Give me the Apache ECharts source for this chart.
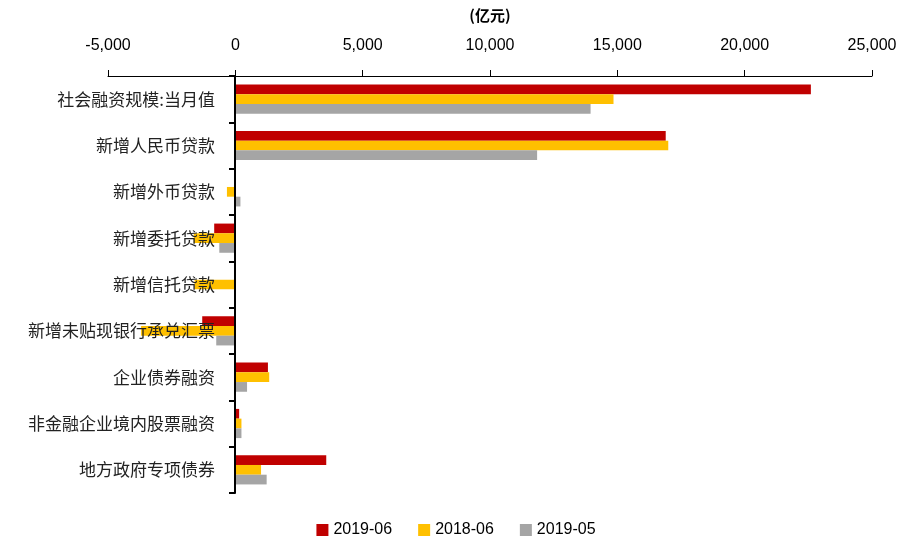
<!DOCTYPE html>
<html>
<head>
<meta charset="utf-8">
<script src="https://cdn.jsdelivr.net/npm/echarts@6/dist/echarts.min.js"></script>
<style>
    html,body{margin:0;padding:0;background:#fff;}
    #chart{width:912px;height:547px;}
</style>
</head>
<body>
<div id="chart"></div>
<script>
/*
* 社融分项对比（亿元）
* */
var categories = ['社会融资规模:当月值', '新增人民币贷款', '新增外币贷款', '新增委托贷款', '新增信托贷款', '新增未贴现银行承兑汇票', '企业债券融资', '非金融企业境内股票融资', '地方政府专项债券'];
var seriesNames = ['2019-06', '2018-06', '2019-05'];
var data201906 = [22600, 16900, 0, -830, 0, -1300, 1280, 150, 3570];
var data201806 = [14850, 17000, -330, -1630, -1600, -3700, 1330, 240, 1010];
var data201905 = [13950, 11850, 200, -630, 0, -750, 460, 240, 1230];
var colors = ['#C00000', '#FFC000', '#A5A5A5'];

var myChart = echarts.init(document.getElementById('chart'));
var makeSeries = function(name, data){
    return {
        name : name,
        type : 'bar',
        barGap : '0%',
        barCategoryGap : '37%',
        z : 2,
        data : data
    };
};
var option = {
    animation : false,
    color : colors,
    textStyle : {
        fontFamily : 'Liberation Sans, Arial, sans-serif'
    },
    legend : {
        bottom : 4,
        left : 'center',
        itemWidth : 12,
        itemHeight : 12,
        itemGap : 26,
        icon : 'rect',
        textStyle : {
            fontSize : 16,
            color : '#000',
            fontFamily : 'Liberation Sans, Arial, sans-serif'
        },
        data : seriesNames
    },
    grid : {
        left : 108,
        right : 40,
        top : 76,
        bottom : 54,
        containLabel : false,
        outerBoundsMode : 'none'
    },
    xAxis : {
        type : 'value',
        position : 'top',
        min : -5000,
        max : 25000,
        interval : 5000,
        name : '(亿元)',
        nameLocation : 'middle',
        nameGap : 53,
        nameTextStyle : {
            fontSize : 15,
            fontWeight : 'bold',
            color : '#000',
            fontFamily : 'Noto Sans CJK SC, sans-serif'
        },
        axisLine : { show : true, lineStyle : { color : '#000', width : 1 } },
        axisTick : { show : true, length : 6, lineStyle : { color : '#000' } },
        axisLabel : {
            fontSize : 16,
            color : '#000',
            margin : 22,
            formatter : function(v){
                return v.toLocaleString('en-US');
            }
        },
        splitLine : { show : false }
    },
    yAxis : {
        type : 'category',
        inverse : true,
        data : categories,
        // 纵轴移到 0 的位置
        offset : -127,
        z : 5,
        axisLine : { onZero : false, lineStyle : { color : '#000', width : 2 } },
        axisTick : { show : true, length : 6, lineStyle : { color : '#000', width : 2 } },
        axisLabel : {
            fontSize : 17,
            color : '#222',
            margin : 20,
            fontFamily : 'Noto Sans CJK SC, sans-serif'
        }
    },
    series : [
        makeSeries(seriesNames[0], data201906),
        makeSeries(seriesNames[1], data201806),
        makeSeries(seriesNames[2], data201905)
    ]
};
myChart.setOption(option);
</script>
</body>
</html>
